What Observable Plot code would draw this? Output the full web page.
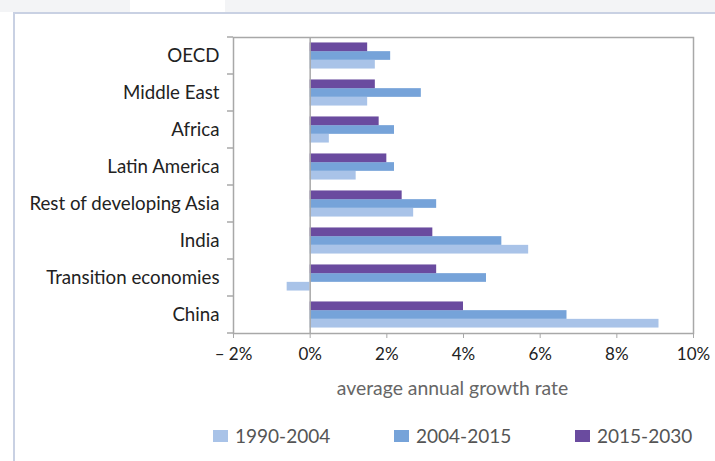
<!DOCTYPE html>
<html>
<head>
<meta charset="utf-8">
<script src="https://cdn.jsdelivr.net/npm/d3@7"></script>
<script src="https://cdn.jsdelivr.net/npm/@observablehq/plot@0.6"></script>
<style>
  html, body { margin: 0; padding: 0; background: #fff; }
  #wrap { position: relative; width: 715px; height: 461px; overflow: hidden; font-family: Lato, "Open Sans", sans-serif; }
  #strip { position: absolute; left: 0; top: 0; width: 715px; height: 12px; background: #f3f4f6; }
  #strip .gap { position: absolute; left: 130px; top: 0; width: 95px; height: 12px; background: #fff; }
  #border { position: absolute; left: 13px; top: 12px; right: -5px; bottom: -5px; border-left: 2px solid #c9d1e3; border-top: 2px solid #c9d1e3; }
  #chart { position: absolute; left: 0; top: 0; }
  #legend { position: absolute; left: 213px; top: 424px; display: flex; }
  #legend .item { width: 181px; display: flex; align-items: center; font-size: 19px; color: #555; }
  #legend .sw { width: 15px; height: 12px; margin-right: 7px; }
</style>
</head>
<body>
<div id="wrap">
  <div id="strip"><div class="gap"></div></div>
  <div id="border"></div>
  <div id="chart"></div>
  <div id="legend"></div>
</div>
<script>
const regions = ["OECD", "Middle East", "Africa", "Latin America", "Rest of developing Asia", "India", "Transition economies", "China"];
const periods = ["1990-2004", "2004-2015", "2015-2030"];
const g1990_2004 = [1.7, 1.5, 0.5, 1.2, 2.7, 5.7, -0.6, 9.1];
const g2004_2015 = [2.1, 2.9, 2.2, 2.2, 3.3, 5.0, 4.6, 6.7];
const g2015_2030 = [1.5, 1.7, 1.8, 2.0, 2.4, 3.2, 3.3, 4.0];
const xTicks = [-2, 0, 2, 4, 6, 8, 10];
const xLabel = "average annual growth rate";
const colors = ["#a9c3e8", "#76a3d9", "#6a4b9f"];

const seriesValues = [g1990_2004, g2004_2015, g2015_2030];
const data = [];
periods.forEach((p, i) => regions.forEach((r, j) => data.push({region: r, period: p, value: seriesValues[i][j]})));

const W = 715, H = 400, mT = 37, mB = 67, mL = 233, mR = 22;
const bandH = (H - mT - mB) / regions.length;
const barH = bandH * 0.235;
const pad = (bandH - 3 * barH) / 2;
// order top->bottom within a band: 2015-2030, 2004-2015, 1990-2004
const slot = {"2015-2030": 0, "2004-2015": 1, "1990-2004": 2};

const barMarks = periods.map(p => Plot.barX(data.filter(d => d.period === p), {
  y: "region", x: "value", fill: "period",
  insetTop: pad + slot[p] * barH,
  insetBottom: bandH - pad - (slot[p] + 1) * barH
}));

const plot = Plot.plot({
  width: W, height: H,
  marginTop: mT, marginBottom: mB, marginLeft: mL, marginRight: mR,
  style: {fontFamily: "Lato, 'Open Sans', sans-serif", fontSize: "17px", color: "#222", background: "transparent"},
  x: {domain: [-2, 10], ticks: xTicks, tickSize: 5, tickPadding: 9,
      tickFormat: d => d < 0 ? "\u2013 " + (-d) + "%" : d + "%",
      label: xLabel, labelAnchor: "center", labelOffset: 61},
  y: {domain: regions, paddingInner: 0, paddingOuter: 0, tickSize: 0, tickPadding: 14, label: null},
  color: {domain: periods, range: colors},
  marks: [
    ...barMarks,
    Plot.ruleX([0], {stroke: "#a8a8a8", strokeWidth: 1.5}),
    Plot.frame({stroke: "#a8a8a8", strokeWidth: 1.5})
  ]
});

document.getElementById("chart").appendChild(plot);

// boundary ticks on the y axis, from the plot's own y scale
const ys = plot.scale("y");
const xs = plot.scale("x");
const svg = d3.select(plot);
const xLeft = Math.min(...xs.range);
const bounds = regions.map(r => ys.apply(r)).concat([ys.apply(regions[regions.length - 1]) + ys.bandwidth]);
svg.append("g").attr("stroke", "#a8a8a8").attr("stroke-width", 1.5)
  .selectAll("line").data(bounds).join("line")
  .attr("x1", xLeft - 6).attr("x2", xLeft).attr("y1", d => d).attr("y2", d => d);

// axis styling
svg.selectAll("text").each(function() {
  const t = (this.textContent || "").trim();
  if (t.includes(xLabel)) {
    d3.select(this).text(xLabel).attr("fill", "#666").attr("dx", -11).style("font-size", "19.4px");
  } else if (regions.includes(t)) {
    d3.select(this).style("font-size", "18.7px");
  }
});
svg.selectAll("g[aria-label='x-axis tick'] path, g[aria-label='x-axis'] line").attr("stroke", "#a8a8a8");

// legend
const legend = d3.select("#legend");
periods.forEach((p, i) => {
  const it = legend.append("div").attr("class", "item");
  it.append("div").attr("class", "sw").style("background", colors[i]);
  it.append("span").text(p);
});
</script>
</body>
</html>
